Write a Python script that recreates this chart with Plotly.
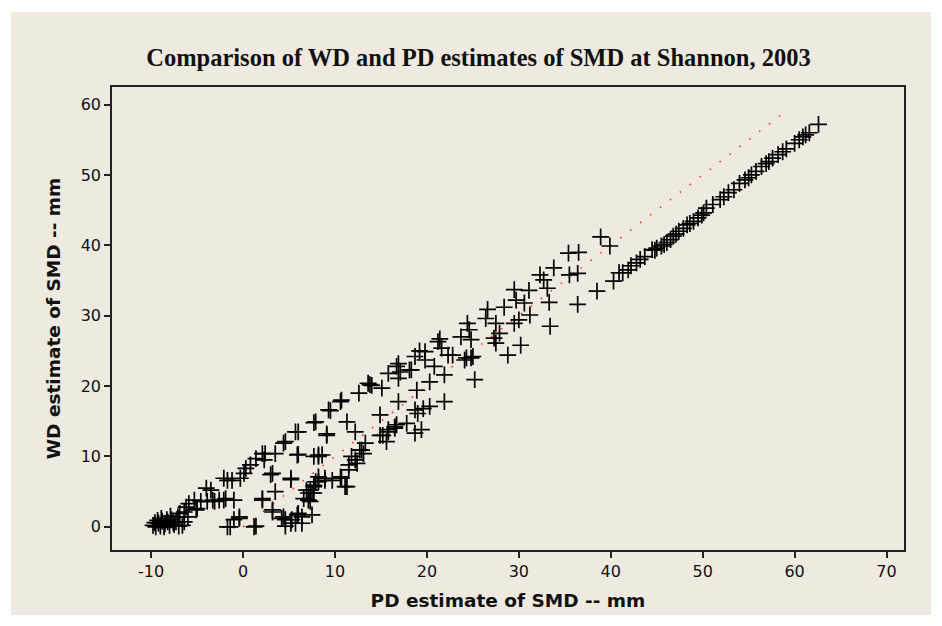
import plotly.graph_objects as go

# PD estimate (x) and WD estimate (y) of SMD, mm
pd_est = [
    -9.8, -9.5, -9.2, -9.0, -8.8, -8.5, -8.3, -8.0, -7.8, -7.6, -7.3, -7.1, -7.0, -6.6, -6.4, -6.0,
    -9.3, -8.6, -7.9, -6.9, -9.6, -8.9, -8.2, -7.5,
    -6.4, -6.2, -5.9, -5.3, -5.1, -5.0, -4.6, -4.0, -3.9, -3.5, -3.3, -3.1, -2.6, -2.1, -1.9, -1.0,
    -2.1, -1.7, -1.2, -0.3, 0.1, 0.3, 0.8, 1.4, 2.1, 2.3, 2.4, 3.5, 4.4, 4.6, 5.7, 6.0, 7.7, 7.9,
    9.3, 9.5, 10.6, 10.7, 12.6, 13.6, 13.8, 14.0, 15.1, 15.8, 16.7, 16.9, 16.9, 17.1, 18.1, 18.3,
    18.7, 19.2, 19.8, 19.8, 20.8, 21.2, 21.4, 21.6, 21.9, 22.3, 22.8, 23.7, 24.4, 24.6, 24.8, 24.1,
    24.8, 24.3, 25.0, 26.4, 26.6, 27.5, 27.9, 28.4, 29.5, 29.7, 30.6, 29.5, 30.0, 31.1, 31.2,
    32.3, 32.7, 33.1, 33.3, 33.8, 35.4, 35.5, 36.4, 36.5, 36.4, 38.5, 38.9, 39.9, 33.4, 30.2,
    28.8, 27.3, 27.5, 25.2, 20.3, 18.9,
    3.0, 3.2, 2.1, 2.1, 3.5, 3.2, 3.2, 4.4, 4.6, 5.2, 4.6, 5.3, 5.9, 6.0, 6.4, 6.4, 5.7, 7.5,
    5.2, 5.2, 6.9, 7.1, 7.5, 7.1, 7.3, 6.6, 7.9, 7.7, 8.2, 8.9, 9.7, 8.9, 8.2, 7.7, 7.3, 7.7,
    10.7, 10.6, 11.1, 11.3, 11.5, 11.5, 12.4, 11.8, 12.2, 12.9, 12.7, 13.1, 13.3, 15.2, 14.9,
    15.6, 15.8, 16.5, 16.7, 17.8, 18.7, 19.4, 14.9, 16.9, 18.7, 19.0, 19.6, 20.3, 21.9, 12.2,
    11.3, 9.1, 9.1, 6.0, 5.9, 7.7, 8.2, 8.6, 8.2, 15.8, 16.5,
    -1.7, -1.4, 1.4, 1.2, -1.0, -0.4, -0.4, 4.2,
    40.3, 40.9, 41.3, 41.9, 42.8, 43.7, 44.5, 45.0, 45.5, 46.1, 46.8, 47.4, 47.9, 48.3, 49.0,
    49.5, 49.9, 50.4, 51.1, 51.9, 52.8, 54.0, 54.6, 55.3, 55.8, 56.4, 56.9, 57.6, 58.7, 59.1,
    60.0, 60.5, 61.2, 61.6, 62.6, 44.8, 45.8, 46.5, 47.1, 48.6, 50.1, 52.3, 53.4, 55.0, 57.2,
    58.2, 60.9, 42.2, 43.2,
]
wd_est = [
    0.2, 0.0, 0.5, 0.1, 0.8, 0.4, 1.0, 0.2, 1.0, 0.6, 0.7, 1.4, 0.1, 0.2, 0.7, 1.4,
    0.9, 0.0, 1.5, 1.9, 0.6, 1.2, 0.7, 0.3,
    2.1, 2.8, 3.3, 3.8, 2.4, 2.6, 3.6, 5.5, 3.6, 5.2, 3.8, 3.6, 3.8, 3.8, 4.0, 3.8,
    6.9, 6.6, 6.6, 6.9, 7.6, 8.3, 8.8, 9.7, 10.4, 9.5, 10.4, 10.4, 11.9, 12.1, 13.5, 13.5, 14.8, 14.9,
    16.6, 16.5, 17.8, 18.0, 19.0, 20.4, 20.2, 20.1, 19.7, 21.8, 22.8, 23.2, 21.1, 22.0, 22.3, 22.3,
    24.2, 25.0, 24.9, 23.7, 22.8, 26.3, 26.7, 25.4, 21.6, 24.4, 24.4, 27.0, 28.9, 28.0, 26.6, 23.7,
    24.0, 24.0, 24.2, 29.6, 30.9, 28.9, 27.5, 31.2, 33.7, 32.2, 31.8, 28.9, 29.4, 33.6, 30.1,
    35.8, 35.1, 33.9, 31.9, 36.8, 38.9, 35.8, 36.0, 39.0, 31.6, 33.5, 41.2, 39.9, 28.5, 25.8,
    24.4, 26.8, 26.1, 20.9, 20.6, 19.4,
    7.4, 7.6, 3.8, 4.0, 5.0, 2.1, 2.4, 1.4, 1.0, 0.5, 0.1, 1.0, 1.7, 1.9, 1.4, 0.5, 0.5, 1.7,
    6.7, 6.9, 5.2, 3.8, 4.8, 4.8, 3.6, 4.0, 6.4, 5.7, 7.1, 6.9, 6.6, 6.6, 6.4, 5.9, 5.2, 4.8,
    6.9, 7.1, 5.7, 5.7, 8.1, 8.8, 9.0, 10.0, 9.5, 10.9, 10.9, 10.4, 11.9, 13.0, 13.0,
    12.1, 13.8, 14.0, 14.5, 14.7, 13.3, 13.8, 15.9, 17.8, 16.6, 16.1, 16.8, 17.1, 17.8, 13.5,
    14.9, 13.0, 13.2, 10.3, 10.2, 10.0, 10.2, 10.2, 10.0, 13.5, 14.2,
    0.0, 0.0, 0.1, 0.0, 1.0, 1.2, 1.4, 1.2,
    34.9, 36.1, 36.1, 36.5, 37.5, 38.4, 39.4, 39.6, 39.9, 40.4, 41.3, 42.0, 42.4, 42.9, 43.4,
    43.9, 44.3, 45.3, 45.8, 46.5, 47.5, 48.8, 49.3, 50.0, 50.5, 51.2, 51.6, 52.4, 53.3, 53.7,
    54.5, 55.0, 55.7, 56.0, 57.2, 39.3, 40.1, 40.8, 41.6, 43.1, 44.6, 46.9, 47.9, 49.6, 51.9,
    52.9, 55.4, 37.1, 38.0,
]

# 1:1 reference line
ref_x = [0, 59]
ref_y = [0, 59]

x_ticks = [-10, 0, 10, 20, 30, 40, 50, 60, 70]
y_ticks = [0, 10, 20, 30, 40, 50, 60]

W, H = 934, 618            # page body adds an 8px offset
ML, MR, MT, MB = 104, 38, 79, 76
PW, PH = W - ML - MR, H - MT - MB

fig = go.Figure()
fig.add_trace(go.Scatter(
    x=ref_x, y=ref_y, mode="lines",
    line=dict(color="#ff2020", width=1.5, dash="1.5px,11px"),
    hoverinfo="skip", showlegend=False,
))
fig.add_trace(go.Scatter(
    x=pd_est, y=wd_est, mode="markers",
    marker=dict(symbol="cross-thin-open", size=12, color="black",
                line=dict(color="black", width=1.7)),
    showlegend=False,
))

axis_font = dict(family="DejaVu Sans", size=16, color="#111111")
title_font = dict(family="DejaVu Sans", size=18.5, color="#111111")
fig.update_layout(
    width=W, height=H,
    paper_bgcolor="white",
    plot_bgcolor="white",
    margin=dict(l=ML, r=MR, t=MT, b=MB),
    title=dict(
        text="<b>Comparison of WD and PD estimates of SMD at Shannon, 2003</b>",
        x=0.5037, xanchor="center", y=1 - 49 / H, yanchor="middle",
        font=dict(family="Liberation Serif", size=24.5, color="#111111"),
    ),
    shapes=[dict(type="rect", xref="paper", yref="paper", layer="below",
                 x0=(3 - ML) / PW, x1=(923 - ML) / PW,
                 y0=(H - MB - 607) / PH,
                 y1=(H - MB - 4) / PH,
                 fillcolor="#eeeae0", line=dict(width=0))],
    xaxis=dict(
        range=[-14.26, 71.9], tickvals=x_ticks, ticktext=[str(v) for v in x_ticks],
        showgrid=False, zeroline=False, showline=True, mirror=True,
        linecolor="#222222", linewidth=1.5,
        ticks="outside", ticklen=6, tickwidth=1.5, tickcolor="#222222",
        tickfont=axis_font,
        title=dict(text="<b>PD estimate of SMD -- mm</b>", standoff=14, font=title_font),
    ),
    yaxis=dict(
        range=[-3.3, 62.5], tickvals=y_ticks, ticktext=[str(v) for v in y_ticks],
        showgrid=False, zeroline=False, showline=True, mirror=True,
        linecolor="#222222", linewidth=1.5,
        ticks="outside", ticklen=6, tickwidth=1.5, tickcolor="#222222",
        tickfont=axis_font,
        title=dict(text="<b>WD estimate of SMD -- mm</b>", standoff=15, font=title_font),
    ),
)

fig.write_html("out.html")
